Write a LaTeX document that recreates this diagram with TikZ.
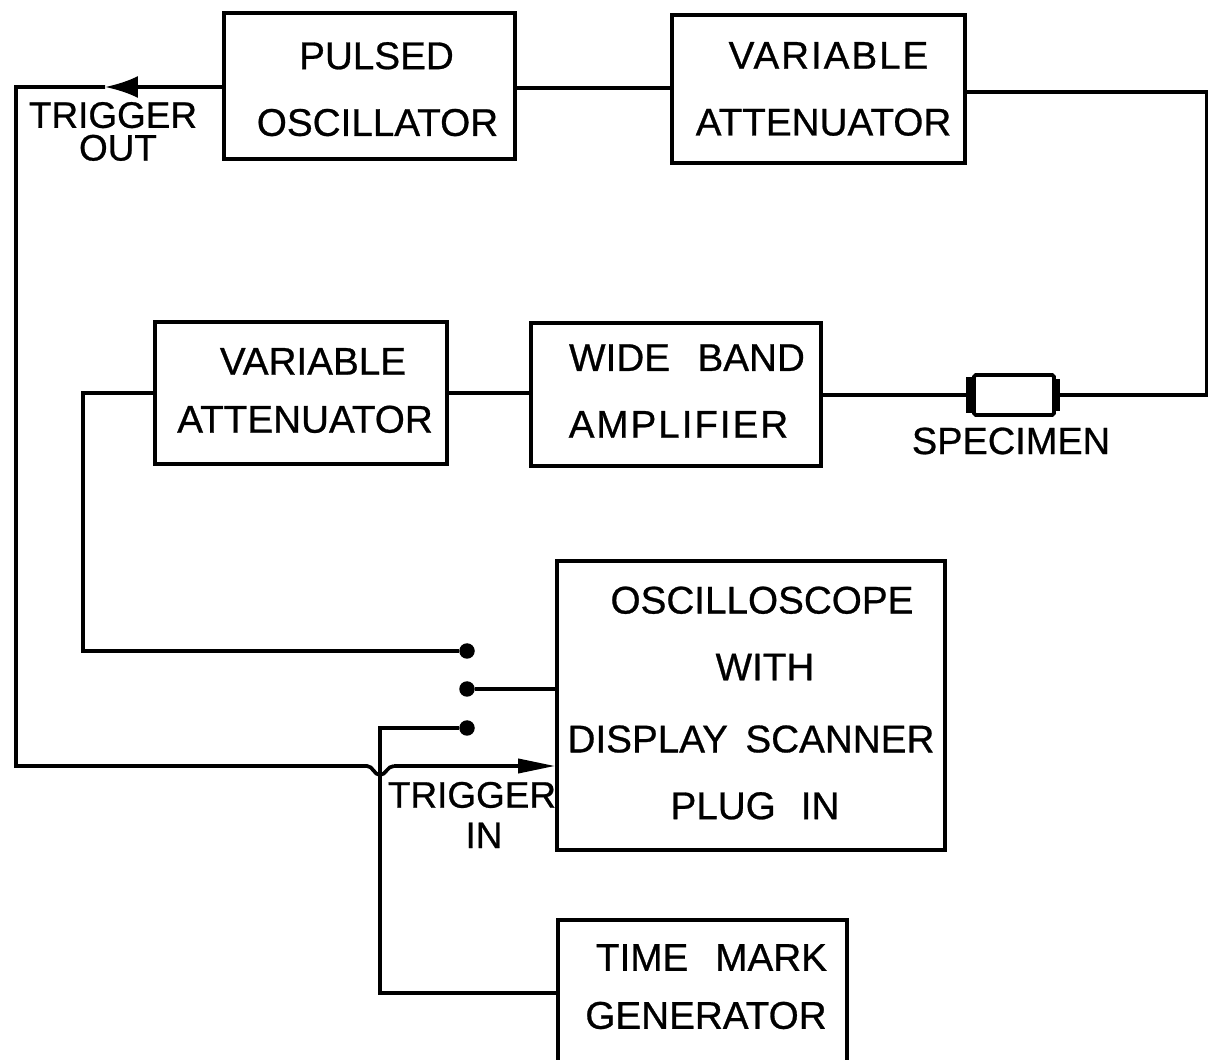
\documentclass[tikz,border=0pt]{standalone}
\usepackage{fontspec}
\setmainfont{Liberation Sans}[RawFeature={embolden=0.7}]
\usetikzlibrary{arrows.meta}

\newcommand{\nudge}[2]{\hspace*{#1}#2}
\newcommand{\wider}[1]{{\addfontfeature{LetterSpace=5}#1}}

\begin{document}
\begin{tikzpicture}[
      x=0.02cm, y=-0.02cm,
      wire/.style={line width=2.1pt, line join=miter},
      block/.style={draw, line width=2.1pt, inner sep=0pt, align=center,
        font=\fontsize{22}{25}\selectfont},
      tag/.style={inner sep=0pt, align=center, font=\fontsize{21}{25}\selectfont},
      pin/.style={circle, fill=black, inner sep=0pt, minimum size=0.31cm},
      tipL/.style={-{Latex[length=0.66cm,width=0.44cm]}},
      tipR/.style={-{Stealth[length=0.74cm,width=0.28cm,inset=0pt]}}
    ]

    \useasboundingbox (0,0) rectangle (1208,1060);
    \clip (0,0) rectangle (1208,1060);

    % ---- top row ----
    \node[block, minimum width=5.82cm, minimum height=2.92cm, text height=57pt] (pulsed) at (369.5,86)
      {\nudge{0.28cm}{PULSED}\\[13pt]\nudge{0.32cm}{OSCILLATOR}};
    \node[block, minimum width=5.86cm, minimum height=2.96cm] (varatt) at (818.5,89)
      {\nudge{0.4cm}{\wider{VARIABLE}}\\[13pt]\nudge{0.2cm}{ATTENUATOR}};

    % ---- middle row ----
    \node[block, minimum width=5.84cm, minimum height=2.84cm, text depth=3pt] (varatttwo) at (301,393)
      {\nudge{0.48cm}{VARIABLE}\\[8pt]\nudge{0.16cm}{ATTENUATOR}};
    \node[block, minimum width=5.80cm, minimum height=2.86cm, text depth=4pt] (ampl) at (676,394.5)
      {\nudge{0.44cm}{WIDE\hspace{0.55cm}BAND}\\[13pt]\nudge{0.1cm}{\wider{AMPLIFIER}}};
    \node[draw, line width=2.1pt, rounded corners=1pt, minimum width=1.6cm, minimum height=0.8cm] (specimen) at (1014,395) {};
    \fill (specimen.north west) ++(-6,4) rectangle ([shift={(1,-4)}]specimen.south west);
    \fill (specimen.north east) ++(-1,6) rectangle ([shift={(4,-6)}]specimen.south east);
    \node[tag, font=\fontsize{21.6}{25}\selectfont] (speclabel) at (1011,441) {SPECIMEN};

    % ---- lower blocks ----
    \node[block, minimum width=7.76cm, minimum height=5.78cm, text depth=3pt] (scope) at (751,705.5)
      {\nudge{0.44cm}{OSCILLOSCOPE}\\[13pt]\nudge{0.56cm}{WITH}\\[16pt]%
       {DISPLAY\hspace{0.35cm}SCANNER}\\[13pt]\nudge{0.16cm}{PLUG\hspace{0.5cm}IN}};
    \node[block, minimum width=5.78cm, minimum height=3.2cm, text depth=0.54cm] (timemark) at (702.5,1000)
      {\nudge{0.36cm}{TIME\hspace{0.54cm}MARK}\\[8pt]\nudge{0.14cm}{GENERATOR}};

    % ---- switch contacts ----
    \node[pin] (cona) at (467,651) {};
    \node[pin] (conb) at (467,689) {};
    \node[pin] (conc) at (467,728) {};

    % ---- free corners ----
    \coordinate (tipout) at (105,87);
    \coordinate (cornertl) at (16,87);
    \coordinate (cornerbl) at (16,766);
    \coordinate (jumpa) at (367,766);
    \coordinate (jumpb) at (394,766);
    \coordinate (jumpc) at (380,775);
    \coordinate (cornerr) at (1207,92);

    % ---- signal path ----
    \draw[wire] (pulsed.east |- 0,88) -- (varatt.west |- 0,88);
    \draw[wire] (varatt.east |- cornerr) -- (cornerr) -- (cornerr |- specimen.east) -- (specimen.east);
    \draw[wire] (specimen.west) -- (ampl.east |- specimen.west);
    \draw[wire] (ampl.west |- varatttwo.east) -- (varatttwo.east);
    \draw[wire] (varatttwo.west) -- (83,393) -- (83,651) -- (cona);
    \draw[wire] (conb) -- (scope.west |- conb);
    \draw[wire] (conc) -- (380,728) -- (380,993) -- (timemark.west |- 0,993);

    % ---- trigger line ----
    \draw[wire, tipL] (pulsed.west |- tipout) -- (tipout);
    \draw[wire] (tipout) -- (cornertl) -- (cornerbl) -- (jumpa)
      .. controls (373,766) and (374,775) .. (jumpc)
      .. controls (386,775) and (387,766) .. (jumpb);
    \draw[wire, tipR] (jumpb) -- (scope.west |- jumpb);

    \node[tag] (trigout) at (113,131.5) {TRIGGER\\[-6.4pt]\nudge{0.2cm}{OUT}};
    \node[tag] (trigin) at (472,815) {TRIGGER\\[-2pt]\nudge{0.48cm}{IN}};

    \end{tikzpicture}
\end{document}
